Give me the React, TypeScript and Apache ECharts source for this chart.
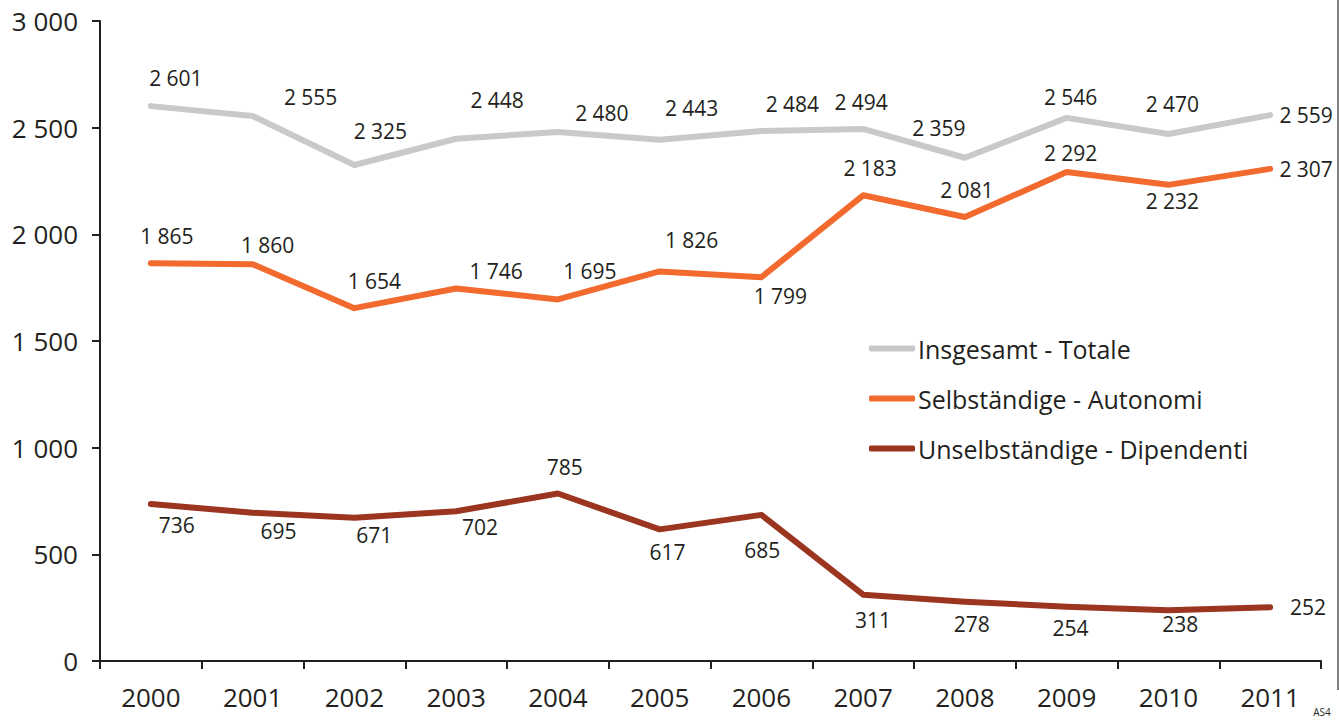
import React, { useEffect, useRef } from "react";
import * as echarts from "echarts";

const years = ["2000", "2001", "2002", "2003", "2004", "2005", "2006", "2007", "2008", "2009", "2010", "2011"];
const totale = [2601, 2555, 2325, 2448, 2480, 2443, 2484, 2494, 2359, 2546, 2470, 2559];
const autonomi = [1865, 1860, 1654, 1746, 1695, 1826, 1799, 2183, 2081, 2292, 2232, 2307];
const dipendenti = [736, 695, 671, 702, 785, 617, 685, 311, 278, 254, 238, 252];
const seriesNames = ["Insgesamt - Totale", "Selbständige - Autonomi", "Unselbständige - Dipendenti"];

// label offsets (pixels) relative to each point
const totaleOffsets = [[25, -28], [58, -19], [26, -34], [41, -39], [44, -19], [32, -32], [31, -27], [-2, -27], [-26, -30], [4, -21], [4, -30], [36, 0]];
const autonomiOffsets = [[16, -27], [15, -19], [20, -27], [40, -18], [32, -28], [32, -31], [19, 19], [7, -27], [2, -27], [4, -19], [4, 16], [36, 0]];
const dipendentiOffsets = [[26, 21], [26, 18], [20, 17], [24, 16], [7, -27], [8, 23], [1, 35], [10, 25], [7, 22], [4, 21], [12, 14], [38, 0]];

const FONT = "'Open Sans', 'Noto Sans', sans-serif";
const TXT = "#231f20";

const fmt = (v: number) => String(v).replace(/\B(?=(\d{3})+(?!\d))/g, " ");

function buildData(values: number[], offsets: number[][]) {
  return values.map((v, i) => ({
    value: v,
    label: { offset: offsets[i] },
  }));
}

export default function App() {
  const ref = useRef<HTMLDivElement>(null);
  useEffect(() => {
    if (!ref.current) return;
    const chart = echarts.init(ref.current, null, { renderer: "svg" });
    const mkSeries = (name: string, values: number[], offsets: number[][], color: string) => ({
      name,
      type: "line",
      data: buildData(values, offsets),
      symbol: "circle",
      symbolSize: 0.1,
      itemStyle: { color },
      lineStyle: { color, width: 6, cap: "round", join: "round" },
      label: {
        show: true,
        position: "inside",
        formatter: (p: any) => fmt(p.value),
        fontFamily: FONT,
        fontSize: 21,
        color: TXT,
      },
      emphasis: { disabled: true },
    });
    chart.setOption({
      animation: false,
      backgroundColor: "#ffffff",
      textStyle: { fontFamily: FONT },
      grid: { left: 100, right: 18, top: 21, bottom: 59, containLabel: false },
      legend: {
        orient: "vertical",
        left: 864,
        top: 330,
        icon: "roundRect",
        itemWidth: 46,
        itemHeight: 6,
        itemGap: 23,
        data: seriesNames,
        textStyle: { fontFamily: FONT, fontSize: 25, color: TXT, lineHeight: 27, padding: [0, 0, 0, -2] },
      },
      xAxis: {
        type: "category",
        data: years,
        boundaryGap: true,
        axisLine: { lineStyle: { color: TXT, width: 2 } },
        axisTick: { show: true, length: 8, interval: 0, lineStyle: { color: TXT, width: 2 } },
        axisLabel: { fontFamily: FONT, fontSize: 26, color: TXT, margin: 23, interval: 0 },
        splitLine: { show: false },
      },
      yAxis: {
        type: "value",
        min: 0,
        max: 3000,
        interval: 500,
        axisLine: { show: true, lineStyle: { color: TXT, width: 2 } },
        axisTick: { show: true, length: 8, lineStyle: { color: TXT, width: 2 } },
        axisLabel: { fontFamily: FONT, fontSize: 26, color: TXT, margin: 22, formatter: (v: number) => fmt(v) },
        splitLine: { show: false },
      },
      graphic: [
        { type: "line", shape: { x1: 1338, y1: 0, x2: 1338, y2: 690 }, style: { stroke: "#555", lineWidth: 1.5 } },
        { type: "text", x: 1322, y: 712, style: { text: "AS4", fontSize: 10, fontFamily: FONT, fill: TXT, align: "center", verticalAlign: "middle" } },
      ],
      series: [
        mkSeries(seriesNames[0], totale, totaleOffsets, "#c8c9ca"),
        mkSeries(seriesNames[1], autonomi, autonomiOffsets, "#f26a2d"),
        mkSeries(seriesNames[2], dipendenti, dipendentiOffsets, "#9b3520"),
      ],
    });
    return () => chart.dispose();
  }, []);
  return <div ref={ref} style={{ position: "fixed", left: 0, top: 0, width: 1339, height: 720 }} />;
}
